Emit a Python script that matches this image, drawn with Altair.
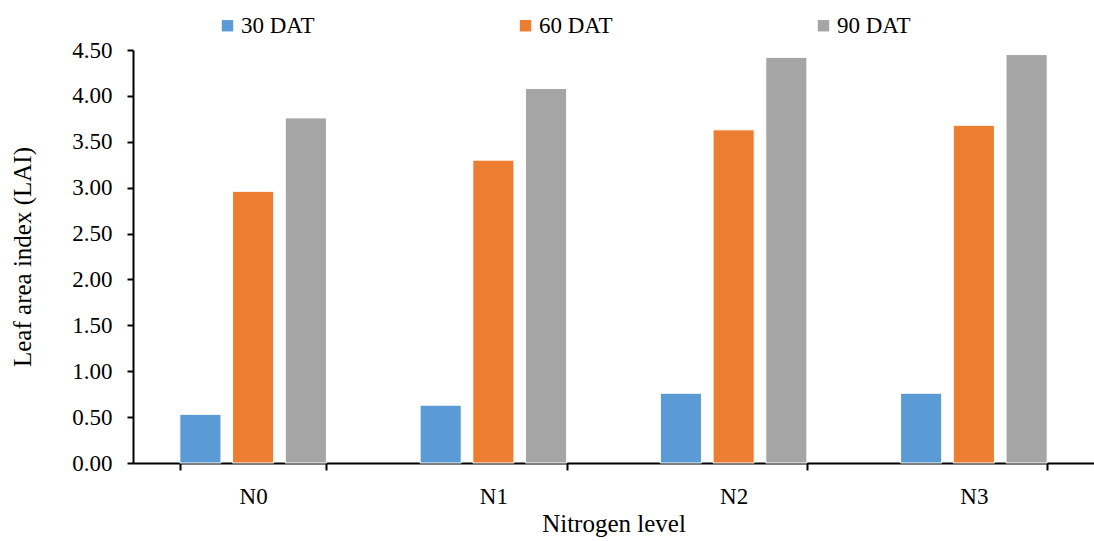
import altair as alt
import pandas as pd

levels = ["N0", "N1", "N2", "N3"]
series = ["30 DAT", "60 DAT", "90 DAT"]
dat30 = [0.53, 0.63, 0.76, 0.76]
dat60 = [2.96, 3.30, 3.63, 3.68]
dat90 = [3.76, 4.08, 4.42, 4.45]
colors = ["#5B9BD5", "#ED7D31", "#A5A5A5"]

rows = []
for i, lv in enumerate(levels):
    for s, vals in zip(series, [dat30, dat60, dat90]):
        rows.append({"level": lv, "series": s, "value": vals[i]})
df = pd.DataFrame(rows)

FONT = "Liberation Serif"

chart = alt.Chart(df).mark_bar(stroke="white", strokeWidth=1).encode(
    x=alt.X("level:N", sort=levels,
            scale=alt.Scale(paddingInner=0.39, paddingOuter=0.195),
            axis=alt.Axis(title="Nitrogen level", labelAngle=0, tickBand="extent",
                          domainColor="black", domainWidth=2, tickColor="black",
                          tickWidth=2, tickSize=7, labelPadding=15,
                          labelFontSize=23, labelFont=FONT, labelColor="black",
                          titleFontSize=25, titleFont=FONT, titleFontWeight="normal",
                          titleColor="black", titlePadding=3)),
    xOffset=alt.XOffset("series:N", sort=series,
                        scale=alt.Scale(paddingInner=0.22, paddingOuter=0)),
    y=alt.Y("value:Q", scale=alt.Scale(domain=[0, 4.5], nice=False),
            axis=alt.Axis(title="Leaf area index (LAI)", format=".2f",
                          values=[0, 0.5, 1, 1.5, 2, 2.5, 3, 3.5, 4, 4.5],
                          grid=False, domainColor="black", domainWidth=2,
                          tickColor="black", tickWidth=2, tickSize=6, labelPadding=15,
                          labelFontSize=23, labelFont=FONT, labelColor="black",
                          titleFontSize=25, titleFont=FONT, titleFontWeight="normal",
                          titleColor="black", titlePadding=36)),
    color=alt.Color("series:N", sort=series,
                    scale=alt.Scale(domain=series, range=colors),
                    legend=alt.Legend(title=None, orient="none", direction="horizontal",
                                      legendX=83, legendY=-36, symbolType="square",
                                      symbolSize=130, symbolStrokeWidth=0,
                                      labelFontSize=23, labelFont=FONT, labelColor="black",
                                      columnPadding=199, gridAlign="all", labelOffset=2)),
).properties(
    width=961, height=413,
    autosize=alt.AutoSizeParams(type="none"),
    padding={"left": 133, "top": 50, "right": 0, "bottom": 78},
).configure(
    background="white",
    font=FONT,
    view=alt.ViewConfig(stroke=None),
)

chart.save("out.html", embed_options={"renderer": "svg", "actions": False})
